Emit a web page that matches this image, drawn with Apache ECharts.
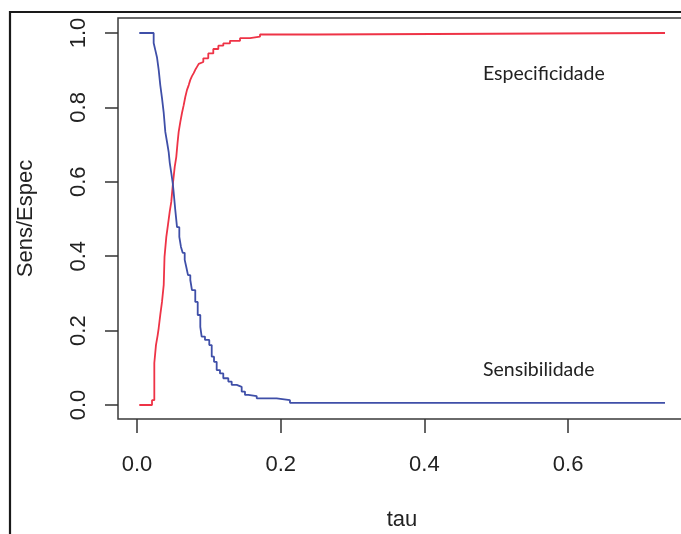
<!DOCTYPE html>
<html><head><meta charset="utf-8">
<script src="https://cdn.jsdelivr.net/npm/echarts@6/dist/echarts.min.js"></script>
<style>html,body{margin:0;padding:0;background:#fff}#c{width:681px;height:534px}</style>
</head><body><div id="c"></div>
<script>
const tauSens=[0.0032,0.0232,0.0255,0.0278,0.0302,0.0324,0.0348,0.0372,0.0394,0.0418,0.0441,0.0456,0.0477,0.0497,0.0511,0.0533,0.0557,0.0589,0.0612,0.0636,0.0664,0.0686,0.0710,0.0742,0.0765,0.0811,0.0845,0.0881,0.0900,0.0946,0.1006,0.1040,0.1072,0.1109,0.1155,0.1201,0.1271,0.1318,0.1388,0.1457,0.1503,0.1549,0.1666,0.1944,0.2129,0.7349];
const sens=[1.000,0.973,0.954,0.935,0.901,0.860,0.825,0.785,0.734,0.707,0.680,0.651,0.624,0.597,0.570,0.524,0.478,0.452,0.425,0.409,0.390,0.371,0.349,0.336,0.309,0.277,0.242,0.210,0.184,0.175,0.161,0.130,0.116,0.094,0.085,0.072,0.063,0.054,0.049,0.036,0.027,0.024,0.018,0.013,0.006,0.006];
const tauSpec=[0.0032,0.0209,0.0241,0.0264,0.0288,0.0302,0.0324,0.0348,0.0372,0.0383,0.0408,0.0431,0.0455,0.0477,0.0501,0.0525,0.0547,0.0564,0.0580,0.0603,0.0626,0.0650,0.0672,0.0696,0.0720,0.0742,0.0765,0.0789,0.0811,0.0835,0.0859,0.0881,0.0923,0.0992,0.1062,0.1132,0.1201,0.1294,0.1434,0.1573,0.1712,0.2501,0.7349];
const spec=[0.000,0.013,0.113,0.161,0.188,0.207,0.242,0.277,0.323,0.398,0.452,0.484,0.519,0.546,0.597,0.640,0.667,0.704,0.734,0.761,0.785,0.806,0.828,0.847,0.860,0.874,0.884,0.892,0.901,0.909,0.917,0.922,0.932,0.945,0.957,0.966,0.972,0.979,0.986,0.990,0.996,1.000,1.000];
const xTicks=[0,0.2,0.4,0.6];
const yTicks=[0,0.2,0.4,0.6,0.8,1.0];
const xName='tau', yName='Sens/Espec';
const labelSpec='Especificidade', labelSens='Sensibilidade';

const font="'Liberation Sans', Arial, sans-serif";
const annFont="19.5px Lato, 'Open Sans', sans-serif";
const chart=echarts.init(document.getElementById('c'),null,{renderer:'canvas'});
const tickStyle={color:'#333',width:1.5};
chart.setOption({
  animation:false,
  backgroundColor:'#fff',
  grid:{left:118,top:18,width:568,height:401,show:true,borderColor:'#3a3a3a',borderWidth:1.5,backgroundColor:'transparent',outerBoundsMode:'none'},
  xAxis:{type:'value',min:-0.02644,max:0.7641,
    axisLine:{show:false,onZero:false},
    axisTick:{show:true,inside:false,customValues:xTicks,length:14,lineStyle:tickStyle},
    axisLabel:{customValues:xTicks,formatter:v=>v.toFixed(1),margin:35,fontSize:22,fontFamily:font,color:'#222'},
    splitLine:{show:false},
    name:xName,nameLocation:'middle',nameGap:90,nameTextStyle:{fontSize:22,fontFamily:font,color:'#222'}},
  yAxis:{type:'value',min:-0.0376,max:1.0403,
    axisLine:{show:false,onZero:false},
    axisTick:{show:true,inside:false,customValues:yTicks,length:13,lineStyle:tickStyle},
    axisLabel:{customValues:yTicks,formatter:v=>v.toFixed(1),rotate:90,margin:28,fontSize:22,fontFamily:font,color:'#222'},
    splitLine:{show:false},
    name:yName,nameLocation:'middle',nameGap:81,nameTextStyle:{fontSize:22,fontFamily:font,color:'#222'}},
  graphic:[
    {type:'rect',shape:{x:10,y:12,width:700,height:600},style:{fill:'none',stroke:'#1a1a1a',lineWidth:2.2},silent:true},
    {type:'text',style:{text:labelSpec,x:483,y:74,fill:'#222',font:annFont,verticalAlign:'middle'}},
    {type:'text',style:{text:labelSens,x:483,y:370,fill:'#222',font:annFont,verticalAlign:'middle'}}
  ],
  series:[
    {type:'line',step:'end',showSymbol:false,symbol:'none',data:tauSens.map((t,i)=>[t,sens[i]]),lineStyle:{color:'#3F4FA8',width:1.8},z:3},
    {type:'line',step:'end',showSymbol:false,symbol:'none',data:tauSpec.map((t,i)=>[t,spec[i]]),lineStyle:{color:'#EE3346',width:1.8},z:2}
  ]
});
</script></body></html>
